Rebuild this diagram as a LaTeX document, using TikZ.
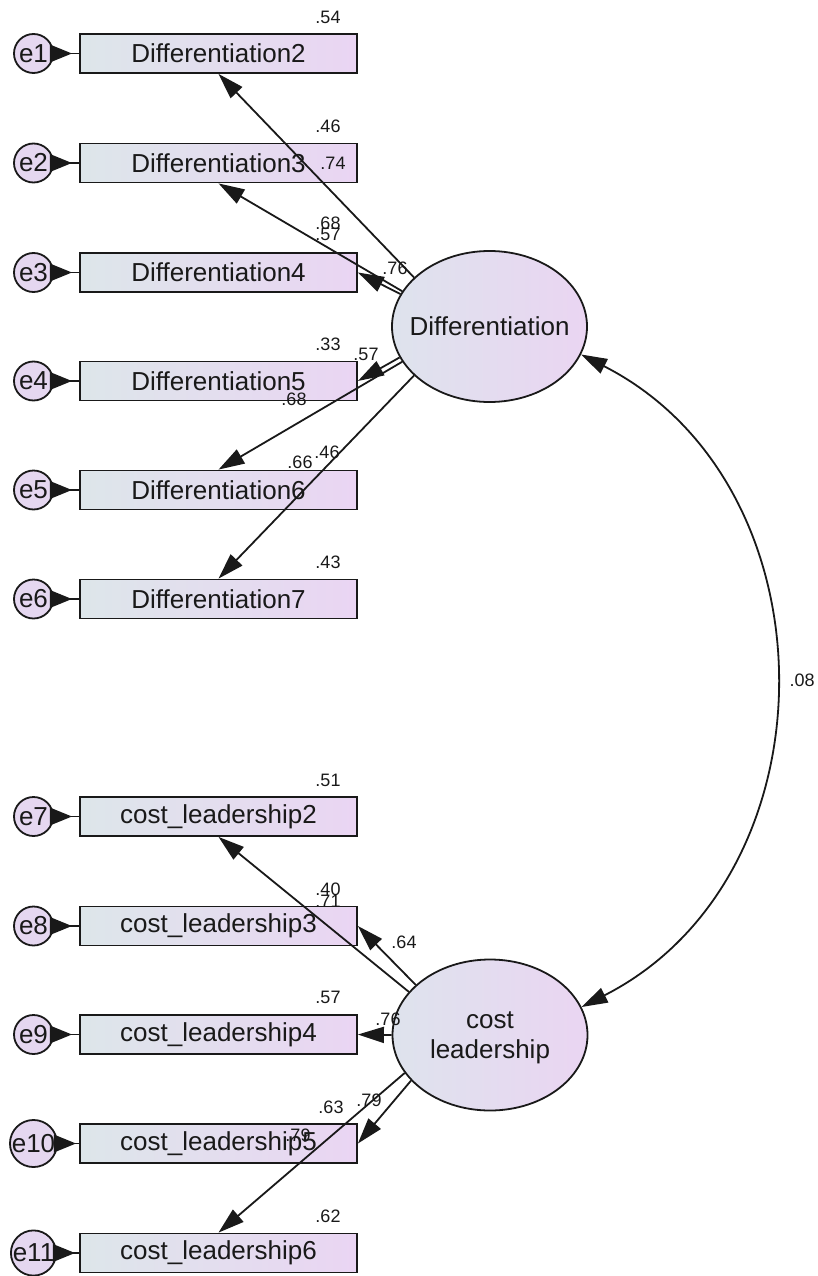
\documentclass[tikz,border=0pt]{standalone}
\usepackage{fontspec}
\setmainfont{Liberation Sans}
\usetikzlibrary{arrows.meta,calc,shapes.geometric}

\definecolor{boxL}{RGB}{221,230,234}
\definecolor{boxR}{RGB}{234,213,243}
\definecolor{latL}{RGB}{222,227,237}
\definecolor{latR}{RGB}{234,213,242}
\definecolor{errF}{RGB}{229,215,240}
\definecolor{ink}{RGB}{25,25,25}

\begin{document}
\begin{tikzpicture}[x=1pt,y=1pt,
  obs/.style={draw=ink, line width=1.8pt, left color=boxL, right color=boxR,
    minimum width=277pt, minimum height=39pt, inner sep=0pt,
    font=\fontsize{26}{30}\selectfont, text=ink},
  lat/.style={ellipse, draw=ink, line width=1.8pt, left color=latL, right color=latR,
    minimum width=195pt, minimum height=151pt, inner sep=0pt},
  lattext/.style={align=center, inner sep=0pt,
    font=\fontsize{26}{30}\selectfont, text=ink},
  err/.style={circle, draw=ink, line width=1.8pt, fill=errF, minimum size=39pt,
    inner sep=0pt, font=\fontsize{26}{30}\selectfont, text=ink},
  coef/.style={font=\fontsize{18}{20}\selectfont, inner sep=0pt, text=ink},
  errline/.style={draw=ink, line width=1.8pt},
  loadarrow/.style={draw=ink, line width=1.8pt, -{Triangle[length=26pt,width=16pt]}},
  covarrow/.style={draw=ink, line width=1.8pt,
    {Triangle[length=26pt,width=16pt]}-{Triangle[length=26pt,width=16pt]}}]

\useasboundingbox (0,0) rectangle (817,-1276);

% observed indicators with their error terms
\foreach \n/\y/\txt/\e in {
    d2/53.5/Differentiation2/e1, d3/163/Differentiation3/e2,
    d4/272.5/Differentiation4/e3, d5/381/Differentiation5/e4,
    d6/490/Differentiation6/e5, d7/599/Differentiation7/e6,
    c2/816.5/cost\_leadership2/e7, c3/926/cost\_leadership3/e8,
    c4/1034.5/cost\_leadership4/e9, c5/1143.5/cost\_leadership5/e10,
    c6/1253/cost\_leadership6/e11}{
  \node[obs] (\n) at (218.5,-\y) {\txt};
  \node[err] (\e) at (33.5,-\y) {\e};
  \draw[errline] (\e) -- (\n);
  \fill[ink] ($(\e.east)+(-4,9)$) -- ($(\e.east)+(18,0)$) -- ($(\e.east)+(-4,-9)$) -- cycle;
}

% latent factors
\node[lat] (dif) at (489.5,-326.5) {};
\node[lattext] (diftext) at (dif.center) {Differentiation};
\node[lat] (cl) at (490,-1035) {};
\node[lattext] (cltext) at ($(cl.center)+(0,-3)$) {cost\\leadership};

% factor loadings
\draw[loadarrow] (dif.147) -- (d2.south);
\draw[loadarrow] (dif.158) -- (d3.south);
\draw[loadarrow] (dif.160) -- (d4.east);
\draw[loadarrow] (dif.-161) -- (d5.east);
\draw[loadarrow] (dif.-158) -- (d6.north);
\draw[loadarrow] (dif.-147) -- (d7.north);

\draw[loadarrow] (cl.152) -- (c2.south);
\draw[loadarrow] (cl.146) -- (c3.east);
\draw[loadarrow] (cl.180) -- (c4.east);
\draw[loadarrow] (cl.-150) -- (c5.east);
\draw[loadarrow] (cl.-156) -- (c6.north);

% factor covariance
\draw[covarrow] (dif.-17) to[out=-27,in=27,looseness=1.13] (cl.17);

% squared multiple correlations
\node[coef] (r1) at (328,-17) {.54};
\node[coef] (r2) at (328,-126) {.46};
\node[coef] (r3) at (328,-234) {.57};
\node[coef] (r4) at (328,-344) {.33};
\node[coef] (r5) at (327,-452) {.46};
\node[coef] (r6) at (328,-562) {.43};
\node[coef] (r7) at (328,-780) {.51};
\node[coef] (r8) at (328,-889) {.40};
\node[coef] (r9) at (328,-997) {.57};
\node[coef] (r10) at (331,-1107) {.63};
\node[coef] (r11) at (328,-1216) {.62};

% standardized loadings
\node[coef] (l1) at (333,-163) {.74};
\node[coef] (l2) at (328,-223) {.68};
\node[coef] (l3) at (395,-268) {.76};
\node[coef] (l4) at (366,-354) {.57};
\node[coef] (l5) at (294,-399) {.68};
\node[coef] (l6) at (300,-462) {.66};
\node[coef] (l7) at (328,-901) {.71};
\node[coef] (l8) at (404,-942) {.64};
\node[coef] (l9) at (388,-1019) {.76};
\node[coef] (l10) at (369,-1100) {.79};
\node[coef] (l11) at (298,-1135) {.79};

% covariance estimate
\node[coef] (cv) at (802,-680) {.08};

\end{tikzpicture}
\end{document}
